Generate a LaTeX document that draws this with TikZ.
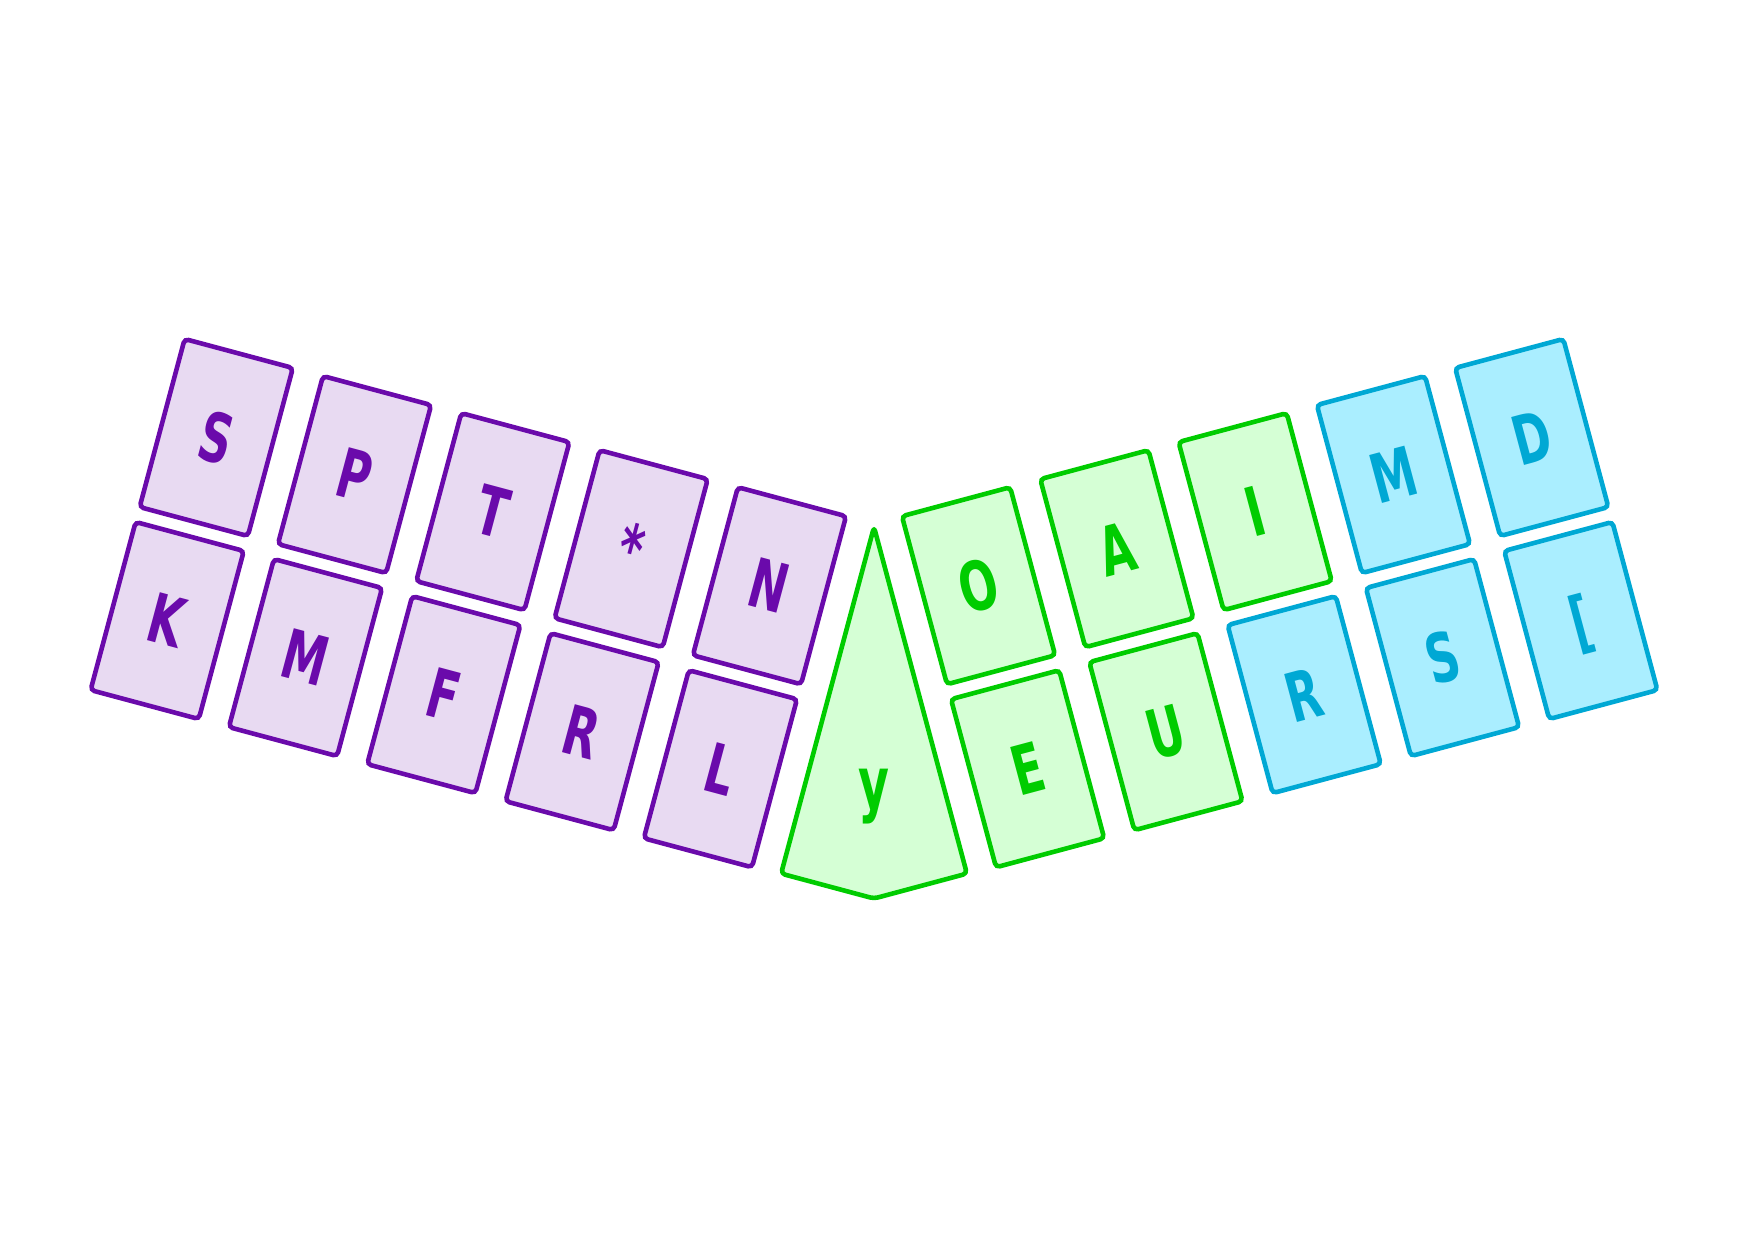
\documentclass[tikz,border=0pt]{standalone}
\usepackage{fontspec}
\newfontfamily\kf[FakeStretch=0.66]{DejaVu Sans Bold}
\definecolor{pst}{HTML}{6A0AAB}
\definecolor{pfl}{HTML}{E8DAF2}
\definecolor{gst}{HTML}{00CC00}
\definecolor{gfl}{HTML}{D5FFD5}
\definecolor{cst}{HTML}{00A8D4}
\definecolor{cfl}{HTML}{AAEEFF}
\tikzset{
  keybase/.style={draw, line width=4.6pt, rounded corners=4pt, minimum width=112pt, minimum height=174pt,
    inner sep=0pt, text height=49.6pt, text depth=0pt, font=\kf\fontsize{68}{68}\selectfont},
  lkey/.style={keybase, draw=pst, fill=pfl, text=pst, rotate=-15},
  gkey/.style={keybase, draw=gst, fill=gfl, text=gst, rotate=15},
  ckey/.style={keybase, draw=cst, fill=cfl, text=cst, rotate=15},
  thumb/.style={draw=gst, fill=gfl, line width=4.6pt, rounded corners=4pt, line join=round}
}
\begin{document}
\begin{tikzpicture}[x=1pt,y=-1pt]
\useasboundingbox (0,0) rectangle (1748,1240);
% left hand
\node[lkey] (s) at (216.25,437.5) {S};
\node[lkey] (p) at (354.55,474.56) {P};
\node[lkey] (t) at (492.85,511.62) {T};
\node[lkey] (star) at (631.15,548.68) {*};
\node[lkey] (n) at (769.45,585.74) {N};
\node[lkey] (k) at (167.2,620.5) {K};
\node[lkey] (m) at (305.5,657.56) {M};
\node[lkey] (f) at (443.8,694.62) {F};
\node[lkey] (r) at (582.1,731.68) {R};
\node[lkey] (l) at (720.4,768.74) {L};
% thumb
\draw[thumb] (874,527) -- (781.1,873.6) -- (874,898.5) -- (966.9,873.6) -- cycle;
\node[text=gst, font=\kf\fontsize{72}{72}\selectfont, anchor=base] (y) at (874,808) {y};
% right vowels
\node[gkey] (o) at (978.55,585.74) {O};
\node[gkey] (a) at (1116.85,548.68) {A};
\node[gkey] (i) at (1255.15,511.62) {I};
\node[gkey] (e) at (1027.6,768.74) {E};
\node[gkey] (u) at (1165.9,731.68) {U};
% right consonants
\node[ckey] (rm) at (1393.45,474.56) {M};
\node[ckey] (rd) at (1531.75,437.5) {D};
\node[ckey] (rr) at (1304.2,694.62) {R};
\node[ckey] (rs) at (1442.5,657.56) {S};
\node[ckey] (rl) at (1580.8,620.5) {[};
\end{tikzpicture}
\end{document}
